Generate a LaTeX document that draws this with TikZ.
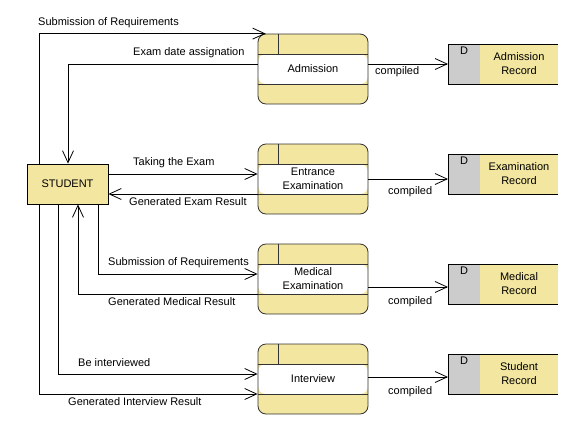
\documentclass[tikz,border=0pt]{standalone}
\usepackage{fontspec}
\setmainfont{Liberation Sans}
\usetikzlibrary{arrows.meta,positioning}

\definecolor{dfdyellow}{RGB}{242,230,160}
\definecolor{dfdgray}{RGB}{204,204,204}

\tikzset{
  flow/.style={line width=0.8pt,-{Straight Barb[length=12pt,width=11pt,line width=0.8pt]}},
  flowlabel/.style={anchor=west,inner sep=0pt},
  entity/.style={draw,line width=0.8pt,fill=dfdyellow,minimum width=81pt,minimum height=40pt,inner sep=0pt},
  process/.style={draw=black!80,line width=0.8pt,fill=dfdyellow,rounded corners=8pt,
    minimum width=110pt,minimum height=70pt,inner sep=0pt,align=center,
    path picture={
      \fill[white] ([yshift=15pt]path picture bounding box.west) rectangle ([yshift=-15pt]path picture bounding box.east);
      \draw[sharp corners,line width=0.8pt] ([yshift=15pt]path picture bounding box.west) -- ([yshift=15pt]path picture bounding box.east)
        ([yshift=-15pt]path picture bounding box.west) -- ([yshift=-15pt]path picture bounding box.east)
        ([xshift=20pt]path picture bounding box.north west) -- ([xshift=20pt,yshift=15pt]path picture bounding box.west);
    }},
  storeid/.style={draw,line width=0.8pt,fill=dfdgray,minimum width=32pt,minimum height=40pt,inner sep=0pt,outer sep=0pt},
  storeletter/.style={anchor=north,inner sep=3pt},
  storename/.style={fill=dfdyellow,minimum width=78pt,minimum height=40pt,inner sep=0pt,outer sep=0pt,align=center},
  storeedge/.style={line width=0.8pt}
}

\begin{document}
\begin{tikzpicture}[x=1pt,y=-1pt,every node/.style={font=\fontsize{11}{14}\selectfont}]
\useasboundingbox (0,0) rectangle (586,437);

% draw student
\node[entity] (stu) at (67.5,184) {STUDENT};

% draw processes
\node[process] (adm) at (313,69) {Admission};
\node[process] (ent) at (313,179) {Entrance\\Examination};
\node[process] (med) at (313,279) {Medical\\Examination};
\node[process] (itv) at (313,379) {Interview};

% draw data stores
\node[storeid] (adr-d) at (464,64) {};
\node[storeletter] (adr-dl) at (adr-d.north) {D};
\node[storename,right=0pt of adr-d] (adr) {Admission\\Record};
\draw[storeedge] (adr.north west) -- (adr.north east) (adr.south west) -- (adr.south east);

\node[storeid] (exr-d) at (464,174) {};
\node[storeletter] (exr-dl) at (exr-d.north) {D};
\node[storename,right=0pt of exr-d] (exr) {Examination\\Record};
\draw[storeedge] (exr.north west) -- (exr.north east) (exr.south west) -- (exr.south east);

\node[storeid] (mer-d) at (464,284) {};
\node[storeletter] (mer-dl) at (mer-d.north) {D};
\node[storename,right=0pt of mer-d] (mer) {Medical\\Record};
\draw[storeedge] (mer.north west) -- (mer.north east) (mer.south west) -- (mer.south east);

\node[storeid] (str-d) at (464,374) {};
\node[storeletter] (str-dl) at (str-d.north) {D};
\node[storename,right=0pt of str-d] (str) {Student\\Record};
\draw[storeedge] (str.north west) -- (str.north east) (str.south west) -- (str.south east);

% draw flows of admission
\draw[flow] (stu.north -| 39,0) |- ([xshift=8pt]adm.north west);
\draw[flow] (adm.west |- 0,64) -| (stu.north -| 68,0);
\draw[flow] (adm.east |- adr-d.west) -- (adr-d.west);
\node[flowlabel] (l-sub1) at (38,23) {Submission of Requirements};
\node[flowlabel] (l-date) at (133,52.5) {Exam date assignation};
\node[flowlabel] (l-cmp1) at (375,72) {compiled};

% draw flows of entrance examination
\draw[flow] (stu.east |- 0,174) -- (ent.west |- 0,174);
\draw[flow] (ent.west |- 0,194) -- (stu.east |- 0,194);
\draw[flow] (ent.east) -- (exr-d.west |- ent.east);
\node[flowlabel] (l-take) at (133,163) {Taking the Exam};
\node[flowlabel] (l-exres) at (129,202) {Generated Exam Result};
\node[flowlabel] (l-cmp2) at (388,192) {compiled};

% draw flows of medical examination
\draw[flow] (stu.south -| 98,0) |- (med.west |- 0,274);
\draw[flow] (med.west |- 0,294) -| (stu.south -| 78,0);
\draw[flow] (med.east |- 0,287) -- (mer-d.west |- 0,287);
\node[flowlabel] (l-sub2) at (108,263) {Submission of Requirements};
\node[flowlabel] (l-medres) at (108,302) {Generated Medical Result};
\node[flowlabel] (l-cmp3) at (388,302) {compiled};

% draw flows of interview
\draw[flow] (stu.south -| 58,0) |- (itv.west |- 0,374);
\draw[flow] (stu.south -| 39,0) |- (itv.west |- 0,394);
\draw[flow] (itv.east |- 0,377) -- (str-d.west |- 0,377);
\node[flowlabel] (l-intv) at (78,362.5) {Be interviewed};
\node[flowlabel] (l-intres) at (68,402) {Generated Interview Result};
\node[flowlabel] (l-cmp4) at (388,392) {compiled};

\end{tikzpicture}
\end{document}
